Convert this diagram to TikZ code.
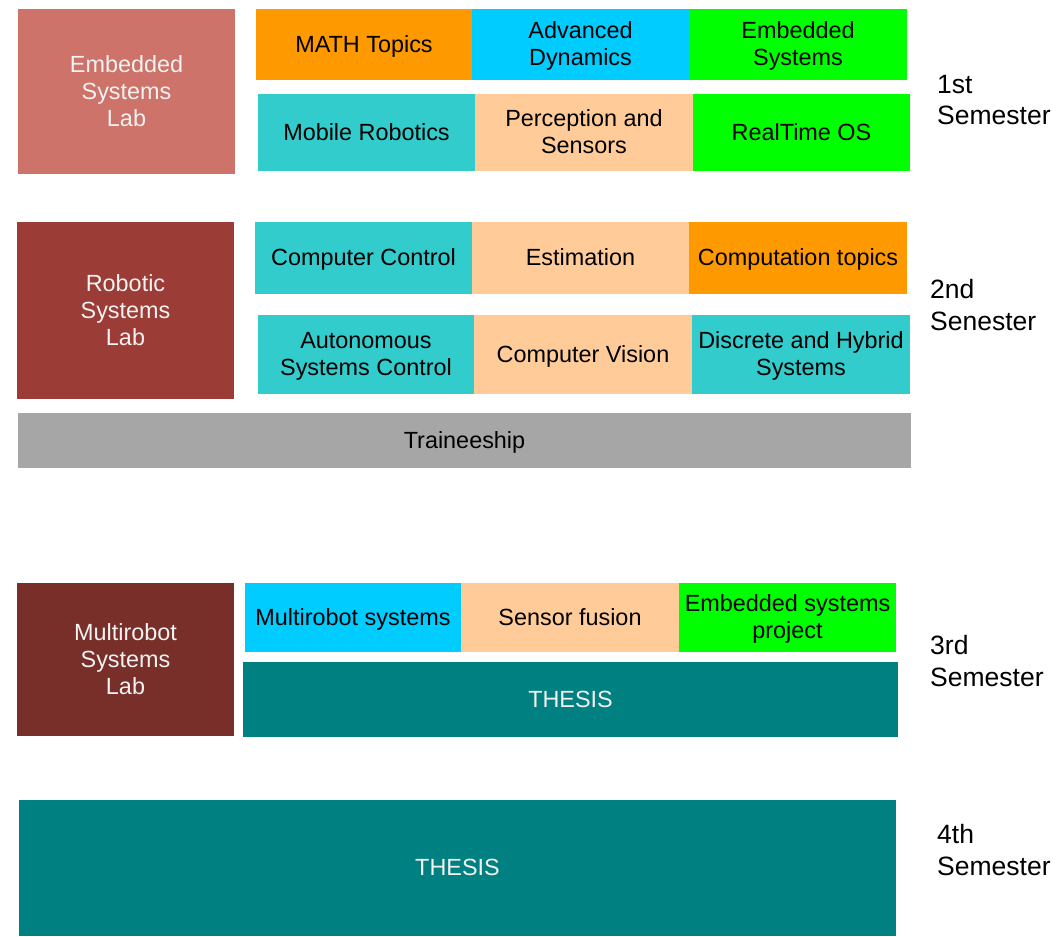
\documentclass[tikz,border=0pt]{standalone}
\usepackage{fontspec}
\setmainfont{Liberation Sans}
\begin{document}
\begin{tikzpicture}[x=1pt,y=-1pt,
  cell/.style={rectangle, inner sep=0pt, outer sep=0pt, anchor=north west, align=center,
    font=\fontsize{23.4}{27}\selectfont, text=black},
  labcell/.style={cell, text=white!95!black},
  semlabel/.style={anchor=west, align=left, inner sep=0pt, font=\fontsize{26.5}{31.5}\selectfont}]
\definecolor{labA}{HTML}{CD7369}
\definecolor{labB}{HTML}{9C3C36}
\definecolor{labC}{HTML}{782F2A}
\definecolor{corange}{HTML}{FF9900}
\definecolor{ccyan}{HTML}{00CCFF}
\definecolor{cgreen}{HTML}{00FF00}
\definecolor{cteal}{HTML}{33CCCC}
\definecolor{cpeach}{HTML}{FFCC99}
\definecolor{cgray}{HTML}{A6A6A6}
\definecolor{cthesis}{HTML}{008080}
\useasboundingbox (0,0) rectangle (1056,936);

% cell: name, x, y, width, height, fill, text (lines centred, set a little low)
\newcommand{\cellnode}[8][cell]{%
  \node[#1, fill=#7, minimum width=#5pt, minimum height=#6pt] (#2) at (#3,#4)
    {\raisebox{-2.5pt}[\height][\depth]{\setlength{\tabcolsep}{0pt}\begin{tabular}{c}#8\end{tabular}}};}

% 1st semester
\cellnode[labcell]{esl}{18}{9}{217}{165}{labA}{Embedded\\Systems\\Lab}
\cellnode{math}{256}{9}{216}{71}{corange}{MATH Topics}
\cellnode{advdyn}{472}{9}{217}{71}{ccyan}{Advanced\\Dynamics}
\cellnode{embsys}{689}{9}{218}{71}{cgreen}{Embedded\\Systems}
\cellnode{mobrob}{258}{94}{217}{77}{cteal}{Mobile Robotics}
\cellnode{percep}{475}{94}{218}{77}{cpeach}{Perception and\\Sensors}
\cellnode{rtos}{693}{94}{217}{77}{cgreen}{RealTime OS}
\node[semlabel] (sem1) at (937,100) {1st\\Semester};

% 2nd semester
\cellnode[labcell]{rsl}{17}{222}{217}{177}{labB}{Robotic\\Systems\\Lab}
\cellnode{compctl}{255}{222}{217}{72}{cteal}{Computer Control}
\cellnode{estim}{472}{222}{217}{72}{cpeach}{Estimation}
\cellnode{comptop}{689}{222}{218}{72}{corange}{Computation topics}
\cellnode{autsys}{258}{315}{216}{79}{cteal}{Autonomous\\Systems Control}
\cellnode{vision}{474}{315}{218}{79}{cpeach}{Computer Vision}
\cellnode{discrete}{692}{315}{218}{79}{cteal}{Discrete and Hybrid\\Systems}
\cellnode{trainee}{18}{413}{893}{55}{cgray}{Traineeship}
\node[semlabel] (sem2) at (930,305) {2nd\\Senester};

% 3rd semester
\cellnode[labcell]{msl}{17}{583}{217}{153}{labC}{Multirobot\\Systems\\Lab}
\cellnode{multirob}{245}{583}{216}{69}{ccyan}{Multirobot systems}
\cellnode{fusion}{461}{583}{218}{69}{cpeach}{Sensor fusion}
\cellnode{embproj}{679}{583}{217}{69}{cgreen}{Embedded systems\\project}
\cellnode[labcell]{thesisA}{243}{662}{655}{75}{cthesis}{THESIS}
\node[semlabel] (sem3) at (930,661) {3rd\\Semester};

% 4th semester
\cellnode[labcell]{thesisB}{19}{800}{877}{136}{cthesis}{THESIS}
\node[semlabel] (sem4) at (937,850) {4th\\Semester};
\end{tikzpicture}
\end{document}
